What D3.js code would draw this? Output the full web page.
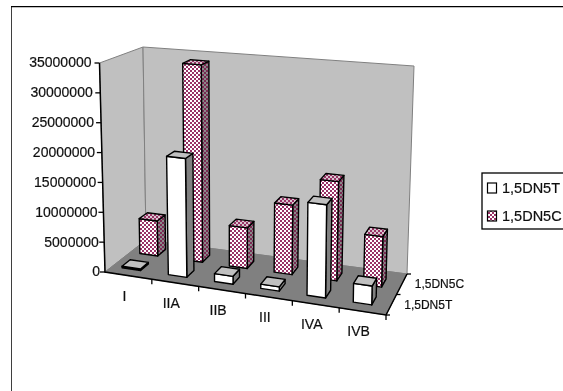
<!DOCTYPE html>
<html><head><meta charset="utf-8">
<script src="https://cdnjs.cloudflare.com/ajax/libs/d3/7.8.5/d3.min.js"></script>
<style>html,body{margin:0;padding:0;background:#fff;overflow:hidden}svg{display:block}text{font-family:"Liberation Sans",Arial,sans-serif;fill:#111;stroke:#111;stroke-width:0.2}</style>
</head><body><svg id="c" width="563" height="391"></svg>
<script>
const categories=["I","IIA","IIB","III","IVA","IVB"];
const seriesNames=["1,5DN5T","1,5DN5C"];
const valuesT=[250000,19800000,1300000,700000,15000000,3000000];
const valuesC=[6100000,34000000,6900000,11700000,16500000,8300000];
const tickValues=[0,5000000,10000000,15000000,20000000,25000000,30000000,35000000];

const svg=d3.select("#c");
const defs=svg.append("defs");
function checker(id,bg,fg){
  const p=defs.append("pattern").attr("id",id).attr("width",4).attr("height",4).attr("patternUnits","userSpaceOnUse");
  p.append("rect").attr("width",4).attr("height",4).attr("fill",bg);
  p.append("rect").attr("width",2).attr("height",2).attr("fill",fg);
  p.append("rect").attr("x",2).attr("y",2).attr("width",2).attr("height",2).attr("fill",fg);
}
checker("pf","#ffffff","#993366");
checker("ps","#8a8a8a","#7a2952");
checker("pt","#d8c8d0","#993366");
const blur=defs.append("filter").attr("id","soft").attr("x",0).attr("y",0).attr("width",1).attr("height",1);
blur.append("feGaussianBlur").attr("stdDeviation",0.4);

const U=d3.scaleBand().domain(categories).range([0,1]);
const V=d3.scaleLinear().domain([0,35000000]).range([0,1]);
function P(u,d,val){
  const v=V(val), h=209+15*u-16*d;
  const lean=-5.5+10*u+2.5*d;
  return [105+281*u+41*d-20*u*d+lean*v, 272+43*u-32*d-9*u*d-h*v];
}
const ln=d3.line();
const closed=pts=>ln(pts)+"Z";
const root=svg.append("g").attr("filter","url(#soft)");

root.append("path").attr("d","M11,391V6.5H563").attr("fill","none").attr("stroke","#000").attr("stroke-width",1.5);

const top0=V.domain()[1];
root.append("path").attr("d",closed([P(0,0,0),P(0,1,0),P(0,1,top0),P(0,0,top0)])).attr("fill","#c0c0c0").attr("stroke","#808080");
root.append("path").attr("d",closed([P(0,1,0),P(1,1,0),P(1,1,top0),P(0,1,top0)])).attr("fill","#c0c0c0").attr("stroke","#808080");
root.append("path").attr("d",closed([P(0,0,0),P(1,0,0),P(1,1,0),P(0,1,0)])).attr("fill","#808080").attr("stroke","#808080");

function bars(vals,d0,d1,ff,fs,ft){
  categories.forEach((c,i)=>{
    const u0=U(c)+U.bandwidth()*0.21,u1=U(c)+U.bandwidth()*0.61,v=vals[i];
    const g=root.append("g").attr("stroke","#000").attr("stroke-width",1.4).attr("stroke-linejoin","round");
    g.append("path").attr("d",closed([P(u1,d0,0),P(u1,d1,0),P(u1,d1,v),P(u1,d0,v)])).attr("fill",fs);
    g.append("path").attr("d",closed([P(u0,d0,0),P(u1,d0,0),P(u1,d0,v),P(u0,d0,v)])).attr("fill",ff);
    g.append("path").attr("d",closed([P(u0,d0,v),P(u1,d0,v),P(u1,d1,v),P(u0,d1,v)])).attr("fill",ft);
  });
}
bars(valuesC,0.62,0.82,"url(#pf)","url(#ps)","url(#pt)");
bars(valuesT,0.18,0.38,"#ffffff","#808080","#c0c0c0");

root.append("path").attr("d",ln([P(0,0,top0),P(0,0,0),P(1,0,0),P(1,1,0)])).attr("fill","none").attr("stroke","#000").attr("stroke-width",1.5);

const yAxisScale=d3.scaleLinear().domain(V.domain()).range([272,63]);
const ax=root.append("g").call(d3.axisLeft(yAxisScale).tickValues(tickValues).tickFormat(d3.format("d")).tickSize(5).tickPadding(3));
ax.select(".domain").remove();
ax.selectAll(".tick").attr("transform",d=>{const p=P(0,0,d);return `translate(${p[0]},${p[1]})`;});
ax.selectAll(".tick line").attr("stroke","#000").attr("stroke-width",1.3);
ax.selectAll(".tick text").attr("font-size",14).attr("font-family","Liberation Sans").attr("x",d=>-5-3*V(d));

categories.forEach((c,i)=>{
  const a=P((i+1)/6,0,0);
  root.append("line").attr("x1",a[0]).attr("y1",a[1]).attr("x2",a[0]).attr("y2",a[1]+5).attr("stroke","#000").attr("stroke-width",1.3);
  const m=P((i+0.5)/6,0,0);
  root.append("text").attr("x",m[0]-4).attr("y",m[1]+25).attr("text-anchor","middle").attr("font-size",14).text(c);
});
[0.25,0.75].forEach((d,i)=>{
  const a=P(1,d,0);
  root.append("text").attr("x",a[0]+13).attr("y",a[1]+4).attr("font-size",12).text(seriesNames[i]);
});
[0,0.5,1].forEach(d=>{const a=P(1,d,0);
  root.append("line").attr("x1",a[0]).attr("y1",a[1]).attr("x2",a[0]+4).attr("y2",a[1]).attr("stroke","#000").attr("stroke-width",1.3);});

root.append("rect").attr("x",482).attr("y",173).attr("width",95).attr("height",56).attr("fill","#fff").attr("stroke","#000").attr("stroke-width",1.3);
seriesNames.forEach((s,i)=>{
  const y=188+i*28;
  root.append("rect").attr("x",487.5).attr("y",y-5).attr("width",9).attr("height",10).attr("fill",i?"url(#pf)":"#fff").attr("stroke","#000").attr("stroke-width",1.2);
  root.append("text").attr("x",502).attr("y",y+5).attr("font-size",14.5).text(s);
});
</script></body></html>
